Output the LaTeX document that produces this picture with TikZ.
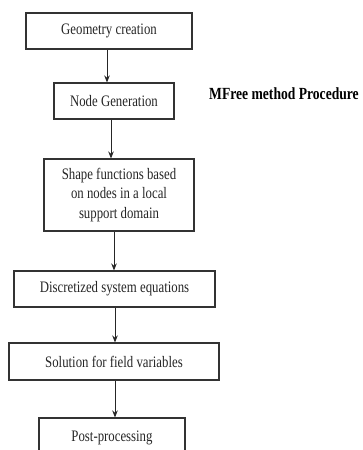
\documentclass[tikz,border=0pt]{standalone}
\usepackage{fontspec}
\setmainfont{Liberation Serif}[FakeStretch=0.8]
\usetikzlibrary{arrows.meta}

\tikzset{stepbox/.style={draw=black!80, line width=1.1pt, fill=white, align=center, minimum height=36pt, font=\fontsize{16}{19.3}\selectfont, text=black!85}}

\begin{document}
\begin{tikzpicture}[x=1pt, y=-1pt, inner sep=0pt, >={Stealth[length=7pt,width=5.5pt]}]
\useasboundingbox (0,0) rectangle (363,450);
\clip (0,0) rectangle (363,450);
\node (geo) at (109,31) [stepbox, minimum width=166pt] {Geometry creation};
\node (gen) at (114,101) [stepbox, minimum width=120pt] {Node Generation};
\node (shp) at (119,195) [stepbox, minimum width=150pt, minimum height=72pt] {Shape functions based\\on nodes in a local\\support domain};
\node (dis) at (114.5,289) [stepbox, minimum width=201pt] {Discretized system equations};
\node (sol) at (114,361.5) [stepbox, minimum width=210pt, minimum height=37pt] {Solution for field variables};
\node (post) at (112,438) [stepbox, minimum width=146pt, minimum height=40pt] {Post-processing};
\node (title) at (209,94) [anchor=west, font=\fontsize{17}{20}\selectfont\bfseries] {MFree method Procedure};
\draw[->, line width=0.9pt, black!85] ([xshift=-2pt]geo.south) -- ([xshift=-2pt]geo.south |- gen.north);
\draw[->, line width=0.9pt, black!85] ([xshift=-3pt]gen.south) -- ([xshift=-3pt]gen.south |- shp.north);
\draw[->, line width=0.9pt, black!85] ([xshift=-5pt]shp.south) -- ([xshift=-5pt]shp.south |- dis.north);
\draw[->, line width=0.9pt, black!85] ([xshift=0.5pt]dis.south) -- ([xshift=0.5pt]dis.south |- sol.north);
\draw[->, line width=0.9pt, black!85] ([xshift=1pt]sol.south) -- ([xshift=1pt]sol.south |- post.north);
\end{tikzpicture}
\end{document}
